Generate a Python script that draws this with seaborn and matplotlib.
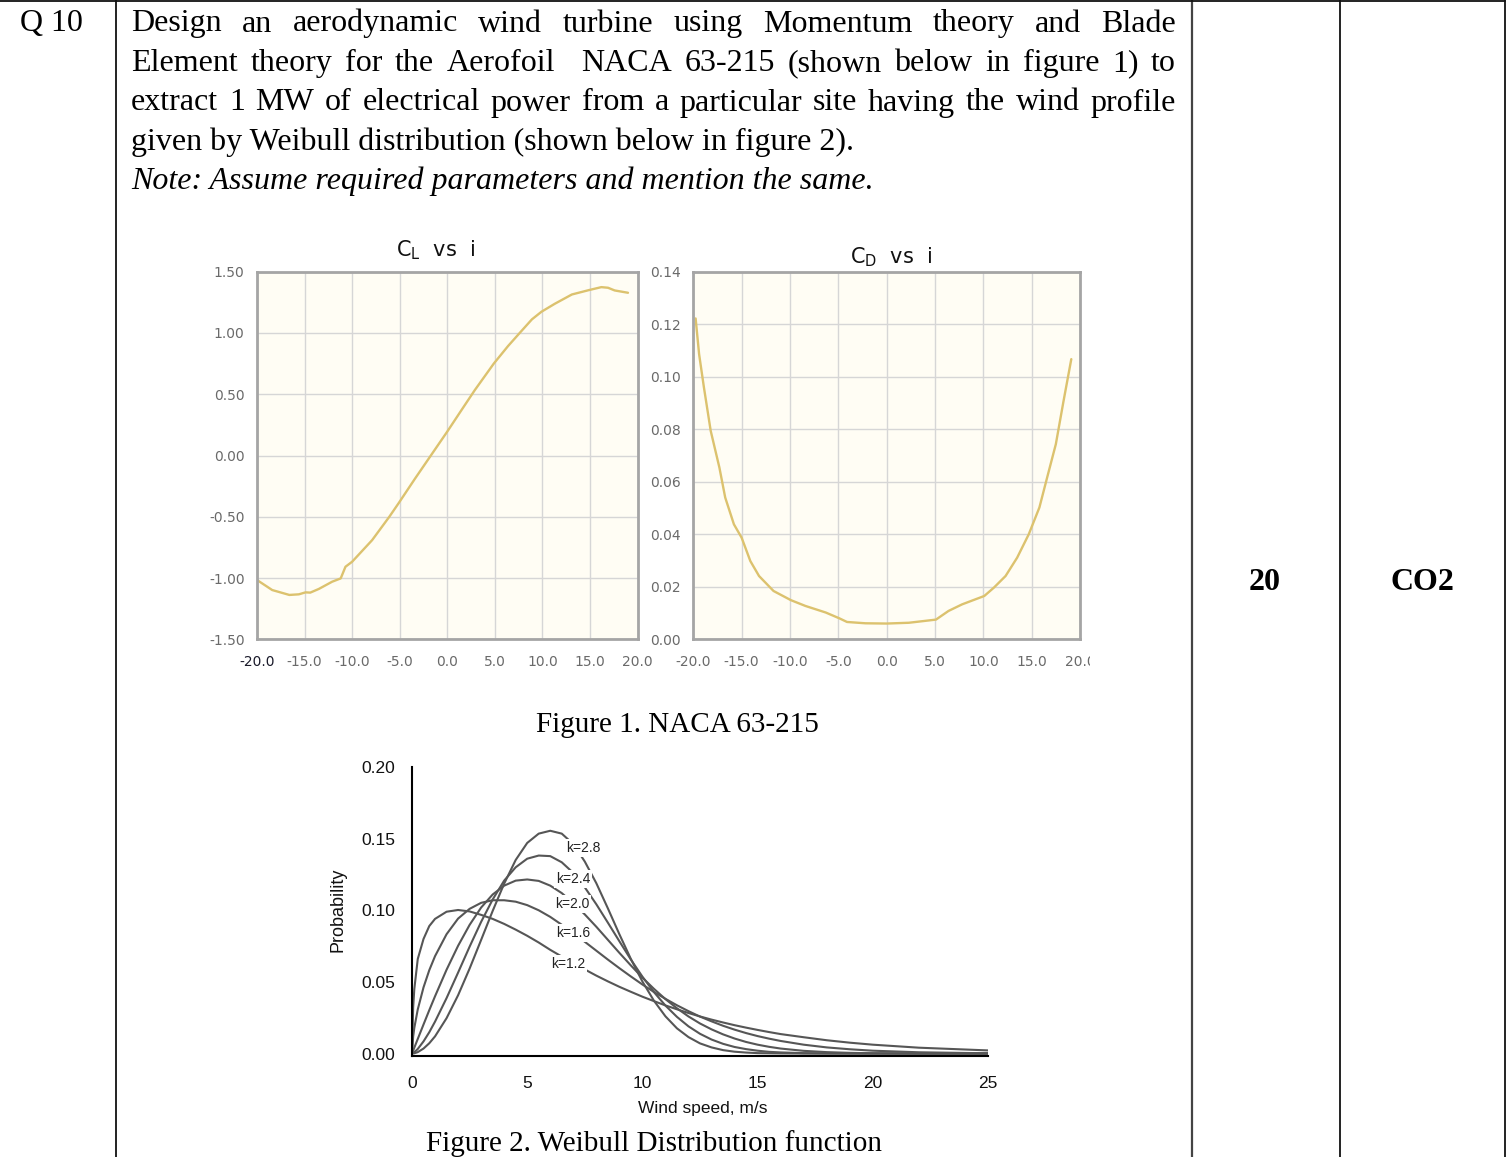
import numpy as np
import pandas as pd
import matplotlib
matplotlib.use("Agg")
import matplotlib.pyplot as plt
from matplotlib.lines import Line2D
from matplotlib.transforms import Bbox
import seaborn as sns

# ---------------- data ----------------
alpha_cl = [-20, -18.4, -16.6, -15.6, -14.9, -14.4, -13.5, -12.1, -11.2, -10.7, -10.0,
            -7.9, -6.1, -5.1, -3.4, -1.6, 0.0, 1.5, 2.9, 4.9, 6.4, 7.8, 8.9, 9.9,
            11.3, 13.1, 14.9, 16.2, 16.9, 17.6, 19.0]
cl = [-1.016, -1.098, -1.138, -1.133, -1.117, -1.119, -1.089, -1.03, -1.003, -0.908, -0.867,
      -0.691, -0.501, -0.388, -0.19, 0.014, 0.195, 0.371, 0.534, 0.751, 0.894, 1.016, 1.111, 1.173,
      1.238, 1.314, 1.35, 1.374, 1.369, 1.347, 1.328]

alpha_cd = [-19.76, -19.4, -18.9, -18.2, -17.3, -16.7, -15.8, -15.0, -14.1, -13.2, -11.7,
            -9.9, -8.4, -6.3, -4.9, -4.1, -2.2, 0.0, 2.3, 5.1, 6.4, 7.8, 10.1, 11.1,
            12.3, 13.5, 14.7, 15.8, 16.6, 17.5, 18.3, 19.1]
cd = [0.1222, 0.1086, 0.0959, 0.0794, 0.0654, 0.054, 0.0438, 0.0387, 0.0298, 0.0241, 0.0184,
      0.0149, 0.0127, 0.0102, 0.008, 0.0066, 0.0061, 0.006, 0.0063, 0.0075, 0.0108, 0.0133, 0.0165, 0.0197,
      0.0241, 0.0311, 0.04, 0.0502, 0.0616, 0.0743, 0.0908, 0.1067]

wind_speed = [0, 0.05, 0.1, 0.25, 0.5, 0.75, 1, 1.5, 2, 2.5,
              3, 3.5, 4, 4.5, 5, 5.5, 6, 6.5, 7, 7.5,
              8, 8.5, 9, 9.5, 10, 10.5, 11, 11.5, 12, 12.5,
              13, 13.5, 14, 14.5, 15, 15.5, 16, 17, 18, 19,
              20, 22, 25]
prob_k28 = [0, 0.0001, 0.0002, 0.001, 0.0035, 0.0072, 0.012, 0.0247, 0.0407, 0.0593,
            0.0793, 0.0995, 0.1186, 0.1351, 0.1470, 0.1535, 0.1555, 0.1535, 0.1462, 0.1340,
            0.1189, 0.1014, 0.0833, 0.0660, 0.0503, 0.0369, 0.0260, 0.0176, 0.0115, 0.0071,
            0.0043, 0.0024, 0.0013, 0.0007, 0.0003, 0.0002, 0.0001, 0, 0, 0,
            0, 0, 0]
prob_k24 = [0, 0.0003, 0.0009, 0.0032, 0.0085, 0.0149, 0.0223, 0.0387, 0.0565, 0.0746,
            0.0919, 0.1075, 0.1207, 0.1300, 0.1360, 0.1382, 0.1378, 0.1335, 0.1261, 0.1160,
            0.1042, 0.0914, 0.0784, 0.0656, 0.0537, 0.0429, 0.0335, 0.0256, 0.0190, 0.0138,
            0.0098, 0.0068, 0.0046, 0.0031, 0.0020, 0.0012, 0.0008, 0.0003, 0.0001, 0,
            0, 0, 0]
prob_k20 = [0, 0.0020, 0.0041, 0.0102, 0.0203, 0.0303, 0.0400, 0.0585, 0.0752, 0.0898,
            0.1019, 0.1110, 0.1172, 0.1207, 0.1215, 0.1205, 0.1172, 0.1120, 0.1051, 0.0971,
            0.0885, 0.0794, 0.0703, 0.0615, 0.0530, 0.0452, 0.0380, 0.0316, 0.0259, 0.0210,
            0.0169, 0.0134, 0.0105, 0.0081, 0.0062, 0.0047, 0.0035, 0.0019, 0.0010, 0.0005,
            0.0002, 0, 0]
prob_k16 = [0, 0.0118, 0.0179, 0.0308, 0.0462, 0.0582, 0.0680, 0.0833, 0.0942, 0.1010,
            0.1052, 0.1070, 0.1070, 0.1060, 0.1036, 0.1000, 0.0954, 0.0899, 0.0841, 0.0780,
            0.0718, 0.0656, 0.0596, 0.0538, 0.0482, 0.0430, 0.0382, 0.0337, 0.0296, 0.0258,
            0.0225, 0.0194, 0.0167, 0.0143, 0.0122, 0.0104, 0.0088, 0.0062, 0.0043, 0.0030,
            0.0020, 0.0009, 0.0002]
prob_k12 = [0, 0.032, 0.045, 0.066, 0.080, 0.089, 0.094, 0.0990, 0.1002, 0.0992,
            0.0968, 0.0940, 0.0905, 0.0865, 0.0822, 0.0775, 0.0724, 0.0677, 0.0631, 0.0587,
            0.0544, 0.0504, 0.0466, 0.0431, 0.0397, 0.0366, 0.0336, 0.0309, 0.0283, 0.0259,
            0.0237, 0.0217, 0.0198, 0.0181, 0.0165, 0.0150, 0.0136, 0.0114, 0.0093, 0.0076,
            0.0062, 0.0041, 0.0022]
k_labels = ["k=2.8", "k=2.4", "k=2.0", "k=1.6", "k=1.2"]
k_label_x = [7.42, 6.99, 6.95, 6.99, 6.77]
k_label_y = [0.1435, 0.1218, 0.1044, 0.0842, 0.0625]

alpha_ticks = [-20, -15, -10, -5, 0, 5, 10, 15, 20]
cl_ticks = [-1.5, -1.0, -0.5, 0.0, 0.5, 1.0, 1.5]
cd_ticks = [0.0, 0.02, 0.04, 0.06, 0.08, 0.10, 0.12, 0.14]
ws_ticks = [0, 5, 10, 15, 20, 25]
prob_ticks = [0.0, 0.05, 0.10, 0.15, 0.20]

question_lines = [
    "Design an aerodynamic wind turbine using Momentum theory and Blade",
    "Element theory for the Aerofoil  NACA 63-215 (shown below in figure 1) to",
    "extract 1 MW of electrical power from a particular site having the wind profile",
]
question_last = "given by Weibull distribution (shown below in figure 2)."
question_note = "Note: Assume required parameters and mention the same."

# ---------------- figure ----------------
sns.set_style("white")
plt.rcParams['font.family'] = ['DejaVu Sans']

W, H = 1507, 1157
fig = plt.figure(figsize=(W / 100, H / 100), dpi=100)
fig.patch.set_facecolor('white')

def fx(x):
    return x / W

def fy(y):
    return 1 - y / H

def axes_px(x0, y0, x1, y1):
    return fig.add_axes([fx(x0), fy(y1), (x1 - x0) / W, (y1 - y0) / H])

serif = ['Liberation Serif', 'DejaVu Serif']
sans = ['Liberation Sans', 'DejaVu Sans']
ink = '#000000'

# table lines
for xv, c, lw in [(116, '#111111', 1.3), (1191.5, '#444444', 1.6), (1339.5, '#111111', 1.3), (1504.5, '#111111', 1.3)]:
    fig.add_artist(Line2D([fx(xv), fx(xv)], [fy(0), fy(H)], color=c, lw=lw))
fig.add_artist(Line2D([fx(0), fx(1505)], [fy(0.8), fy(0.8)], color='#111111', lw=1.3))

# question text
fs = 23
fig.text(fx(20), fy(31.5), "Q 10", family=serif, fontsize=fs, va='baseline', color=ink)
renderer = fig.canvas.get_renderer()

def justified(line, ybase, x0, x1):
    words = line.split(' ')
    objs, widths = [], []
    for w in words:
        if w == '':
            objs.append(None)
            widths.append(0)
            continue
        t = fig.text(0, fy(ybase), w, family=serif, fontsize=fs, va='baseline', color=ink)
        widths.append(t.get_window_extent(renderer=renderer).width)
        objs.append(t)
    gap = (x1 - x0 - sum(widths)) / (len(words) - 1)
    x = x0
    for t, wd in zip(objs, widths):
        if t is not None:
            t.set_x(fx(x))
        x += wd + gap

baselines = [31.5, 71, 110.5, 150, 189.5]
for ln, yb in zip(question_lines, baselines):
    justified(ln, yb, 131, 1176)
fig.text(fx(131), fy(baselines[3]), question_last, family=serif, fontsize=fs, va='baseline', color=ink)
fig.text(fx(131), fy(baselines[4]), question_note, family=serif, fontsize=fs, va='baseline',
         style='italic', color=ink)

fig.text(fx(1265), fy(590), "20", family=serif, fontsize=fs, weight='bold', ha='center', va='baseline', color=ink)
fig.text(fx(1422), fy(590), "CO2", family=serif, fontsize=fs, weight='bold', ha='center', va='baseline', color=ink)

fig.text(fx(677.5), fy(732), "Figure 1. NACA 63-215", family=serif, fontsize=21, ha='center',
         va='baseline', color=ink)
fig.text(fx(654), fy(1151), "Figure 2. Weibull Distribution function", family=serif, fontsize=21,
         ha='center', va='baseline', color=ink)

# ---------------- airfoil charts ----------------
gold = '#DCC26E'
face = '#FFFDF4'
spine_c = '#A5A5A5'

def style_polar(ax, yticks, yfmt):
    ax.set_facecolor(face)
    ax.set_xlim(-20, 20)
    ax.set_xticks(alpha_ticks)
    ax.set_xticklabels([f"{v:.1f}" for v in alpha_ticks])
    ax.set_ylim(yticks[0], yticks[-1])
    ax.set_yticks(yticks)
    ax.set_yticklabels([yfmt.format(v) for v in yticks])
    ax.grid(True, color='#D6D6D6', lw=1.0)
    ax.set_axisbelow(True)
    for sp in ax.spines.values():
        sp.set_visible(True)
        sp.set_color(spine_c)
        sp.set_linewidth(2.0)
    ax.tick_params(axis='both', length=5, width=1.0, color=spine_c, labelsize=10,
                   labelcolor='#6A6A6A', direction='out')
    ax.tick_params(axis='x', pad=6)
    ax.tick_params(axis='y', pad=4)
    ax.set_xlabel('')
    ax.set_ylabel('')

ax1 = axes_px(257, 271.7, 637.5, 639.3)
sns.lineplot(x=alpha_cl, y=cl, ax=ax1, color=gold, lw=1.7, sort=False)
style_polar(ax1, cl_ticks, "{:.2f}")
ax1.get_xticklabels()[0].set_color('#1A1A2A')

ax2 = axes_px(693.3, 271.7, 1080, 639.3)
sns.lineplot(x=alpha_cd, y=cd, ax=ax2, color=gold, lw=1.7, sort=False)
style_polar(ax2, cd_ticks, "{:.2f}")
clip = Bbox.from_extents(0, 0, 1090, H)
for lab in ax2.get_xticklabels():
    lab.set_clip_on(True)
    lab.set_clip_box(clip)

fig.text(fx(436), fy(250), r"C$_{\mathregular{L}}$  vs  i", fontsize=15, ha='center', va='center', color='#111111')
fig.text(fx(891), fy(257), r"C$_{\mathregular{D}}$  vs  i", fontsize=15, ha='center', va='center', color='#111111')

# ---------------- Weibull chart ----------------
ax3 = axes_px(412, 767, 988, 1056)
curve_color = '#565656'
for yv in [prob_k12, prob_k16, prob_k20, prob_k24, prob_k28]:
    sns.lineplot(x=wind_speed, y=yv, ax=ax3, color=curve_color, lw=1.5, zorder=2)
ax3.set_xlim(0, 25)
ax3.set_ylim(-0.0017, 0.2)
ax3.set_xticks(ws_ticks)
ax3.set_xticklabels([str(v) for v in ws_ticks])
ax3.set_yticks(prob_ticks)
ax3.set_yticklabels([f"{v:.2f}" for v in prob_ticks])
sns.despine(ax=ax3)
for s in ['left', 'bottom']:
    ax3.spines[s].set_color('black')
    ax3.spines[s].set_linewidth(1.5)
ax3.tick_params(axis='y', length=9, width=1.5, color='black', direction='out', pad=3)
ax3.tick_params(axis='x', length=8.5, width=1.5, color='black', direction='out', pad=6)
for lab in ax3.get_xticklabels() + ax3.get_yticklabels():
    lab.set_family(sans)
    lab.set_fontsize(12.5)
    lab.set_color('#111111')
ax3.set_xlabel('')
ax3.set_ylabel('')
ax3.set_facecolor('white')
for lab, xv, yv in zip(k_labels, k_label_x, k_label_y):
    ax3.text(xv, yv, lab, ha='center', va='center', fontsize=10, family=sans, color='#222222',
             bbox=dict(facecolor='white', edgecolor='none', pad=1.2), zorder=5)

fig.text(fx(338), fy(910), "Probability", rotation=90, ha='center', va='center', fontsize=13,
         family=sans, color='#111111')
fig.text(fx(703), fy(1109), "Wind speed, m/s", ha='center', va='center', fontsize=12.5,
         family=sans, color='#111111')

fig.savefig("out.png", dpi=100, facecolor='white')
